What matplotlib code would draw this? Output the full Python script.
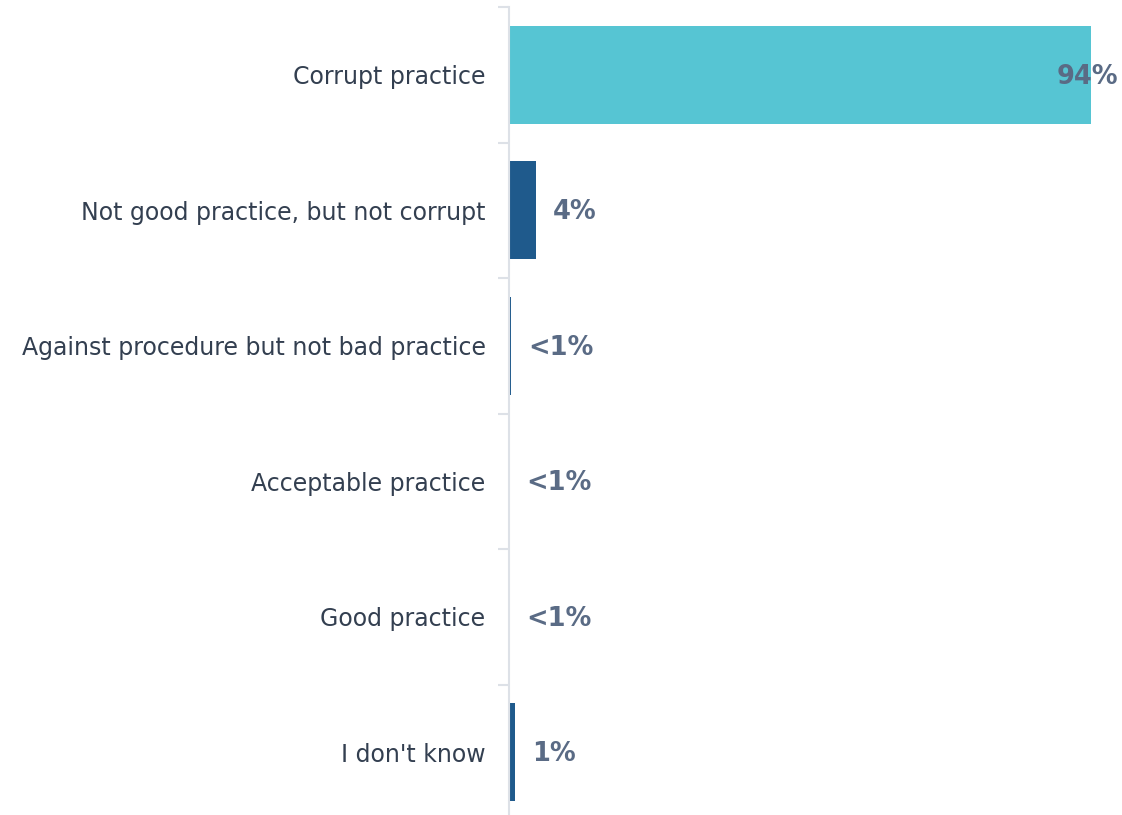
import matplotlib
matplotlib.use("Agg")
from matplotlib import pyplot as plt

# categories top to bottom
categories = [
    "Corrupt practice",
    "Not good practice, but not corrupt",
    "Against procedure but not bad practice",
    "Acceptable practice",
    "Good practice",
    "I don't know",
]
values = [94, 4.4, 0.35, 0.05, 0.05, 1.0]
value_labels = ["94%", "4%", "<1%", "<1%", "<1%", "1%"]
bar_colors = ["#56c5d3", "#1f5a8c", "#1f5a8c", "#1f5a8c", "#1f5a8c", "#1f5a8c"]

W, H = 1122, 815
fig = plt.figure(figsize=(W / 100, H / 100), dpi=100)
fig.patch.set_facecolor("white")

# axes placed in pixel terms
left, right = 508.5, 508.5 + 98 * 6.2
top, bottom = 7, 820
ax = fig.add_axes([left / W, (H - bottom) / H, (right - left) / W, (bottom - top) / H])

pos = list(range(len(categories)))
ax.barh(pos, values, height=0.72, color=bar_colors, zorder=2)
ax.set_ylim(len(categories) - 0.5, -0.5)
ax.set_xlim(0, 98)

ax.set_yticks(pos)
ax.set_yticklabels(categories, fontsize=17, color="#333f50")
ax.tick_params(axis="y", length=0, pad=16.5)
# boundary ticks between bands
ax.set_yticks([p - 0.5 for p in pos] + [len(pos) - 0.5], minor=True)
ax.tick_params(axis="y", which="minor", length=8, width=1.5, color="#dde1e7")
ax.set_xticks([])

for s in ["top", "right", "bottom"]:
    ax.spines[s].set_visible(False)
ax.spines["left"].set_color("#dde1e7")
ax.spines["left"].set_linewidth(1.5)

for i, (v, lab) in enumerate(zip(values, value_labels)):
    if i == 0:
        ax.annotate(lab, (v, i), xytext=(-3, -1.5), textcoords="offset points",
                    ha="center", va="center", fontsize=18.5, fontweight="bold",
                    color="#5a6b85", annotation_clip=False)
    else:
        ax.annotate(lab, (v, i), xytext=(12.5, -1.5), textcoords="offset points",
                    ha="left", va="center", fontsize=18.5, fontweight="bold",
                    color="#5a6b85")

fig.savefig("out.png", dpi=100, facecolor="white")
